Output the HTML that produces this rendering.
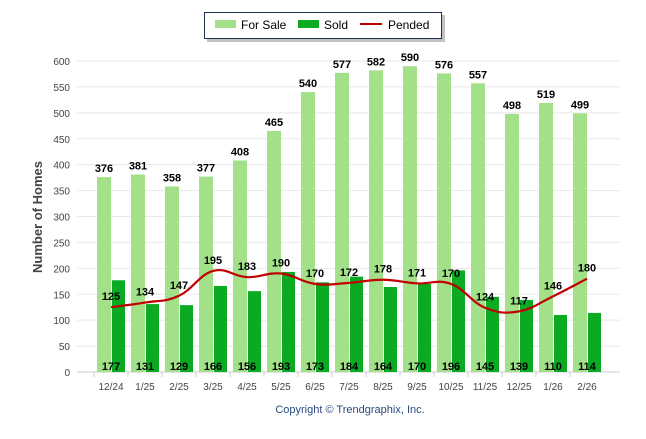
<!DOCTYPE html>
<html><head><meta charset="utf-8"><style>
body{margin:0;background:#fff;font-family:"Liberation Sans",sans-serif}
svg text{font-family:"Liberation Sans",sans-serif}
</style></head><body>
<svg id="c" width="646" height="434" xmlns="http://www.w3.org/2000/svg">
<g>
<rect x="207" y="15" width="238" height="27" fill="#888" opacity="0.5"/>
<rect x="204.5" y="12.5" width="237" height="26" fill="#fff" stroke="#1f3359" stroke-width="1"/>
<rect x="215" y="20" width="21" height="8" fill="#a3e08a"/>
<text x="241" y="29" font-size="12" fill="#000">For Sale</text>
<rect x="298" y="20" width="21" height="8" fill="#0aaa23"/>
<text x="324" y="29" font-size="12" fill="#000">Sold</text>
<line x1="360" y1="24" x2="382" y2="24" stroke="#c00000" stroke-width="2"/>
<text x="388" y="29" font-size="12" fill="#000">Pended</text>
</g>
<text transform="translate(42,217) rotate(-90)" text-anchor="middle" font-size="13" font-weight="bold" fill="#444">Number of Homes</text>
<text x="350" y="413" text-anchor="middle" font-size="11" fill="#2a4a80">Copyright © Trendgraphix, Inc.</text>
<g id="grid"></g><g id="bars"></g><g id="line"></g><g id="labels"></g>
</svg>
<script>
const categories=["12/24","1/25","2/25","3/25","4/25","5/25","6/25","7/25","8/25","9/25","10/25","11/25","12/25","1/26","2/26"];
const forSale=[376,381,358,377,408,465,540,577,582,590,576,557,498,519,499];
const sold=[177,131,129,166,156,193,173,184,164,170,196,145,139,110,114];
const pended=[125,134,147,195,183,190,170,172,178,171,170,124,117,146,180];
const yTicks=[0,50,100,150,200,250,300,350,400,450,500,550,600];
const NS="http://www.w3.org/2000/svg";
const x0=77,x1=620,y0=372,yTop=61;
function y(v){return y0-(v/600)*(y0-yTop);}
function xc(i){return 111+i*34;}
function mk(tag,attrs,parent){const e=document.createElementNS(NS,tag);for(const k in attrs)e.setAttribute(k,attrs[k]);document.getElementById(parent).appendChild(e);return e;}
yTicks.forEach(t=>{
 const l=mk('line',{x1:x0,x2:x1,y1:y(t),y2:y(t),stroke:t===0?'#ccc':'#e8e8e8','stroke-width':1},'grid');
 
 
 const tx=mk('text',{x:70,y:y(t)+4,'text-anchor':'end','font-size':10,fill:'#444'},'grid');
 tx.textContent=t;
 
 
});
categories.forEach((c,i)=>{
 const tk=mk('line',{x1:xc(i)-17,x2:xc(i)-17,y1:y0,y2:y0+5,stroke:'#ccc'},'grid');
 
 
 const tx=mk('text',{x:xc(i),y:390,'text-anchor':'middle','font-size':10,fill:'#444'},'grid');
 tx.textContent=c;
 
 
 const b1=mk('rect',{x:xc(i)-14,y:y(forSale[i]),width:14,height:y0-y(forSale[i]),fill:'#a3e08a'},'bars');
 
 
 const b2=mk('rect',{x:xc(i)+1,y:y(sold[i]),width:13,height:y0-y(sold[i]),fill:'#0aaa23'},'bars');
 
 
 const l1=mk('text',{x:xc(i)-7,y:y(forSale[i])-5,'text-anchor':'middle','font-size':11,'font-weight':'bold',fill:'#000'},'labels');
 l1.textContent=forSale[i];
 
 
 const l2=mk('text',{x:xc(i),y:370,'text-anchor':'middle','font-size':11,'font-weight':'bold',fill:'#000'},'labels');
 l2.textContent=sold[i];
 
 
 const l3=mk('text',{x:xc(i),y:y(pended[i])-7,'text-anchor':'middle','font-size':11,'font-weight':'bold',fill:'#000'},'labels');
 l3.textContent=pended[i];
 
 
});
const pts=pended.map((v,i)=>[xc(i),y(v)]);
let d=`M${pts[0][0]},${pts[0][1]}`;
for(let i=0;i<pts.length-1;i++){
 const p0=pts[Math.max(0,i-1)],p1=pts[i],p2=pts[i+1],p3=pts[Math.min(pts.length-1,i+2)];
 const t=0.2;
 d+=` C${p1[0]+(p2[0]-p0[0])*t},${p1[1]+(p2[1]-p0[1])*t} ${p2[0]-(p3[0]-p1[0])*t},${p2[1]-(p3[1]-p1[1])*t} ${p2[0]},${p2[1]}`;
}
const pl=mk('path',{d:d,fill:'none',stroke:'#c00000','stroke-width':2.2},'line');


</script>
</body></html>
